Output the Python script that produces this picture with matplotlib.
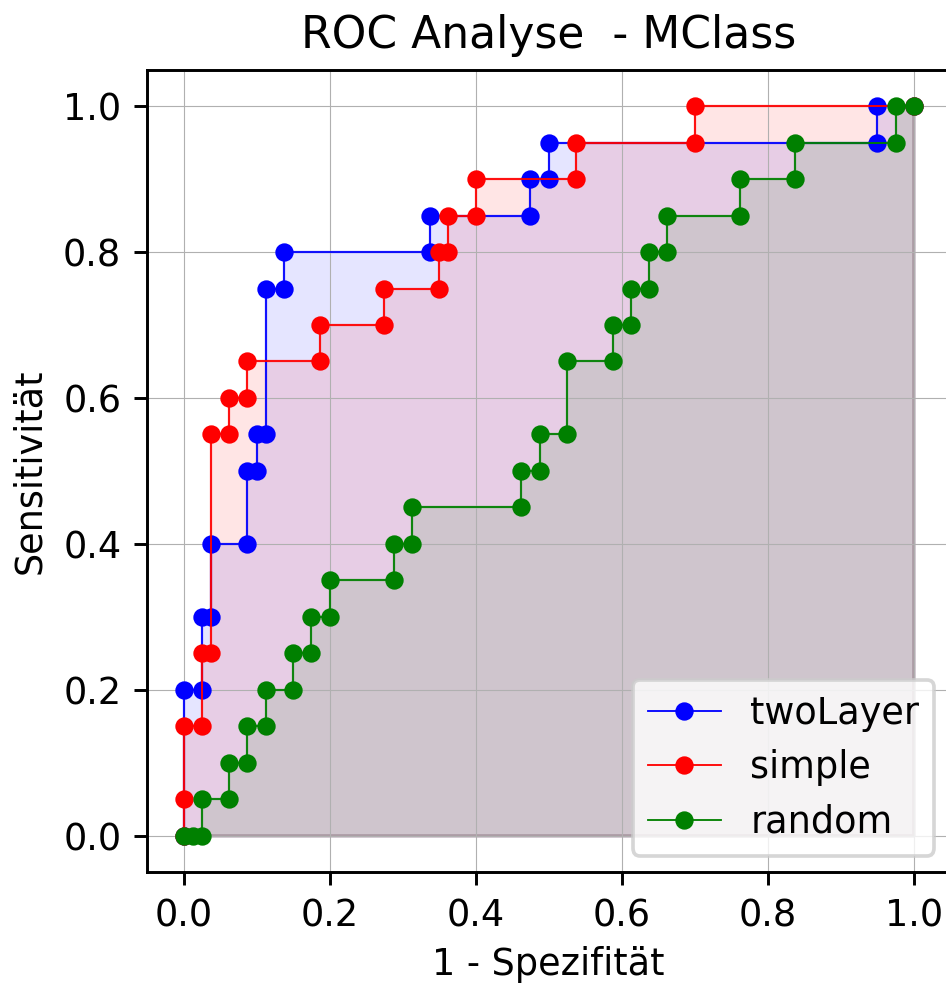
import matplotlib
matplotlib.use("Agg")
import matplotlib.pyplot as plt

# ------------------------------
# ROC points (1 - specificity, sensitivity)
# ------------------------------
fpr_twolayer = [0, 0, 0.025, 0.025, 0.0375, 0.0375, 0.0875, 0.0875, 0.1, 0.1,
                0.1125, 0.1125, 0.1375, 0.1375, 0.3375, 0.3375, 0.475, 0.475,
                0.5, 0.5, 0.95, 0.95, 1.0]
tpr_twolayer = [0, 0.2, 0.2, 0.3, 0.3, 0.4, 0.4, 0.5, 0.5, 0.55,
                0.55, 0.75, 0.75, 0.8, 0.8, 0.85, 0.85, 0.9,
                0.9, 0.95, 0.95, 1.0, 1.0]

fpr_simple = [0, 0, 0, 0.025, 0.025, 0.0375, 0.0375, 0.0625, 0.0625, 0.0875,
              0.0875, 0.1875, 0.1875, 0.275, 0.275, 0.35, 0.35, 0.3625, 0.3625,
              0.4, 0.4, 0.5375, 0.5375, 0.7, 0.7, 1.0]
tpr_simple = [0, 0.05, 0.15, 0.15, 0.25, 0.25, 0.55, 0.55, 0.6, 0.6,
              0.65, 0.65, 0.7, 0.7, 0.75, 0.75, 0.8, 0.8, 0.85,
              0.85, 0.9, 0.9, 0.95, 0.95, 1.0, 1.0]

fpr_random = [0, 0.0125, 0.025, 0.025, 0.0625, 0.0625, 0.0875, 0.0875, 0.1125,
              0.1125, 0.15, 0.15, 0.175, 0.175, 0.2, 0.2, 0.2875, 0.2875,
              0.3125, 0.3125, 0.4625, 0.4625, 0.4875, 0.4875, 0.525, 0.525,
              0.5875, 0.5875, 0.6125, 0.6125, 0.6375, 0.6375, 0.6625, 0.6625,
              0.7625, 0.7625, 0.8375, 0.8375, 0.975, 0.975, 1.0]
tpr_random = [0, 0, 0, 0.05, 0.05, 0.1, 0.1, 0.15, 0.15,
              0.2, 0.2, 0.25, 0.25, 0.3, 0.3, 0.35, 0.35, 0.4,
              0.4, 0.45, 0.45, 0.5, 0.5, 0.55, 0.55, 0.65,
              0.65, 0.7, 0.7, 0.75, 0.75, 0.8, 0.8, 0.85,
              0.85, 0.9, 0.9, 0.95, 0.95, 1.0, 1.0]

curves = [
    ("twoLayer", fpr_twolayer, tpr_twolayer, "blue"),
    ("simple", fpr_simple, tpr_simple, "red"),
    ("random", fpr_random, tpr_random, "green"),
]

# ------------------------------
# Plot
# ------------------------------
dpi = 264
fig = plt.figure(figsize=(946 / dpi, 985 / dpi), dpi=dpi)
ax = fig.add_axes([147 / 946, 113 / 985, 803.5 / 946, 802.3 / 985])

for name, fpr, tpr, color in curves:
    ax.plot(fpr, tpr, "-o", color=color, lw=0.5, markersize=4, label=name)
    ax.fill_between(fpr, tpr, color=color, alpha=0.1)

ax.set_xlim(-0.05, 1.05)
ax.set_ylim(-0.05, 1.05)
ax.set_xticks([0.0, 0.2, 0.4, 0.6, 0.8, 1.0])
ax.set_yticks([0.0, 0.2, 0.4, 0.6, 0.8, 1.0])
ax.set_xlabel("1 - Spezifität", labelpad=3)
ax.set_ylabel("Sensitivität")
ax.set_title("ROC Analyse  - MClass")
ax.grid(True, lw=0.3, color="#b0b0b0")
ax.legend(loc="lower right", borderaxespad=0.45, labelspacing=0.48)

fig.savefig("out.png", dpi=dpi)
